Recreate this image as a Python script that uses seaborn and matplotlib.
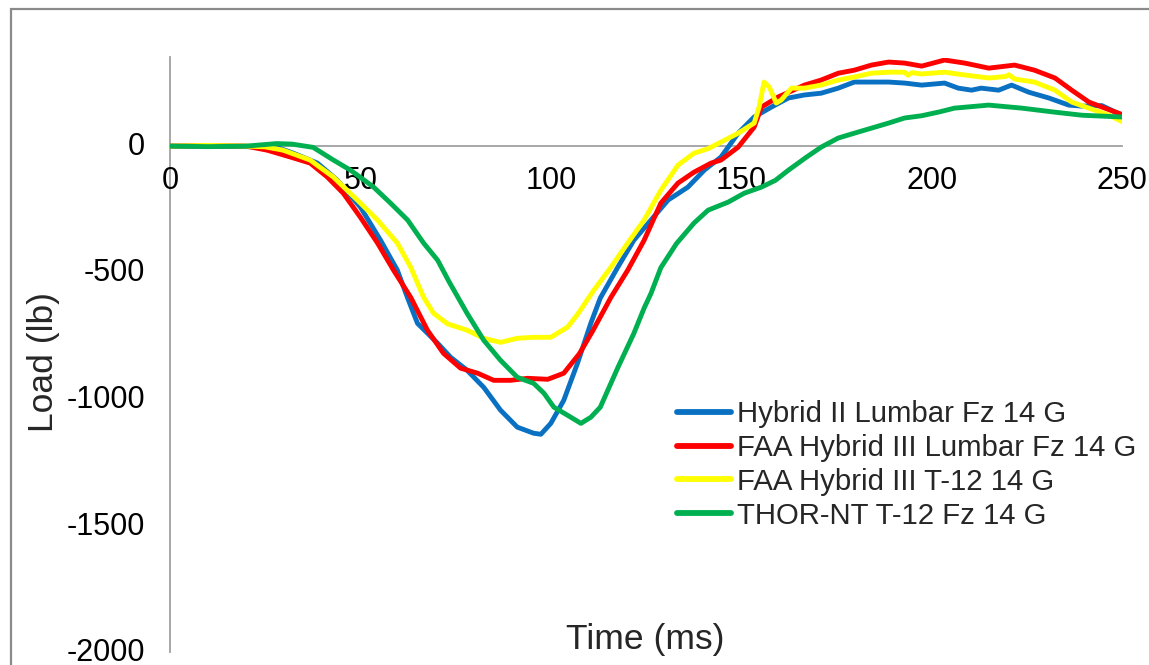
import numpy as np
import pandas as pd
import matplotlib
matplotlib.use("Agg")
import matplotlib.pyplot as plt
from matplotlib.patches import Rectangle
from matplotlib.lines import Line2D
import matplotlib.transforms as mtransforms
import seaborn as sns

# ---------------- data ----------------
series_names = [
    "Hybrid II Lumbar Fz 14 G",
    "FAA Hybrid III Lumbar Fz 14 G",
    "FAA Hybrid III T-12 14 G",
    "THOR-NT T-12 Fz 14 G",
]
series_colors = ["#0A70C2", "#FF0000", "#FFFF00", "#00B050"]

hyb2_t = [0, 10, 20, 28, 32.4, 38.7, 43.9, 50, 55.3, 59.7, 62.4, 65, 70.3, 73.7, 78, 82.4,
          86.8, 91.2, 95.5, 97.4, 100, 103.4, 107, 110.5, 113, 117.6, 121.8, 126.3, 130.8,
          136, 140.3, 144.7, 149.2, 153.4, 157.9, 162.4, 166.6, 171, 175.5, 179.7, 184.2,
          188.7, 192.9, 197.4, 203.4, 207, 210.5, 213, 217.6, 221, 225.5, 230.8, 236,
          239.5, 244.7, 250]
hyb2_v = [0, 0, -2, -4, -28, -67, -134, -241, -372, -490, -600, -700, -779, -834, -885,
          -953, -1043, -1110, -1134, -1138, -1095, -1004, -858, -700, -600, -478, -372,
          -292, -213, -162, -95, -43, 51, 115, 154, 190, 202, 209, 229, 253, 253, 253,
          249, 241, 249, 229, 221, 229, 221, 241, 213, 190, 162, 158, 160, 122]

faa_lum_t = [0, 10, 20, 25.5, 31.6, 36.8, 41.3, 45.5, 50, 54.5, 58.7, 63.2, 67.6, 71.8,
             76.3, 80.8, 85, 89.5, 93.9, 99.2, 103.4, 107.5, 111, 115.8, 120.2, 124.5,
             128.9, 133.4, 137.6, 142.1, 144.7, 149.2, 153.4, 155.3, 159.7, 166.6, 171,
             175.5, 179.7, 184.2, 188.7, 192.9, 197.4, 203.4, 208.7, 215, 221.8, 227,
             232.4, 236.8, 241.3, 245.5, 250]
faa_lum_v = [0, 2, 0, -16, -43, -67, -122, -186, -281, -383, -490, -597, -727, -818, -877,
             -897, -925, -925, -917, -921, -897, -820, -730, -597, -490, -372, -225, -146,
             -103, -67, -55, -4, 75, 154, 194, 241, 261, 288, 300, 320, 332, 328, 316,
             340, 328, 308, 320, 300, 269, 221, 174, 150, 125]

faa_t12_t = [0, 10, 20, 25, 29.7, 36.8, 42.9, 49.2, 54.5, 59.7, 63.2, 66.6, 69.2, 72.9, 78,
             82.4, 86.8, 91.2, 95.5, 100, 104.4, 107, 111.3, 115.8, 120.2, 124.5, 128.9,
             133.4, 137.6, 141.3, 144.7, 149.2, 153.4, 154.7, 156, 157.4, 159.2, 160.5,
             163.2, 166.6, 171, 175.5, 179.7, 184.2, 188.7, 192.9, 193.8, 194.8, 197.4,
             203.4, 208.7, 215, 219.5, 220.3, 221.8, 227, 232.4, 236.8, 241.3, 246.6, 250]
faa_t12_v = [0, 3, 0, -3, -16, -55, -122, -213, -292, -383, -478, -597, -660, -702, -727,
             -759, -775, -759, -755, -755, -715, -665, -569, -478, -383, -292, -174, -75,
             -28, -10, 16, 51, 91, 154, 253, 233, 170, 182, 229, 229, 241, 261, 273, 288,
             292, 292, 280, 290, 285, 292, 281, 269, 275, 282, 265, 253, 221, 174, 150,
             122, 97]

thor_t = [0, 10, 20, 28, 32, 37.6, 42.9, 47.4, 53.4, 57.9, 62.4, 66.6, 70.3, 73.3, 78,
          82.4, 86.8, 91.2, 95.5, 98.2, 100.8, 104.4, 107.9, 110.5, 113, 117.6, 121.8,
          124.5, 126.3, 128.9, 133, 137.6, 141.3, 146.6, 150.8, 155.3, 159, 162.4, 167,
          171, 175.5, 179.7, 184.2, 188.7, 192.9, 197.4, 202, 206, 215, 223.7, 232.4,
          239.5, 250]
thor_v = [0, -2, 0, 10, 8, -5, -55, -95, -161, -225, -292, -383, -451, -536, -660, -767,
          -846, -913, -937, -976, -1031, -1063, -1095, -1071, -1031, -875, -740, -640,
          -582, -480, -385, -304, -253, -221, -186, -162, -135, -95, -45, -4, 32, 51, 71,
          91, 111, 120, 135, 150, 162, 150, 134, 122, 115]

x_ticks = [0, 50, 100, 150, 200, 250]
y_ticks = [0, -500, -1000, -1500, -2000]

# ---------------- build long frame ----------------
frames = []
for name, t, v in zip(series_names,
                      [hyb2_t, faa_lum_t, faa_t12_t, thor_t],
                      [hyb2_v, faa_lum_v, faa_t12_v, thor_v]):
    frames.append(pd.DataFrame({"Time": t, "Load": v, "Series": name}))
df = pd.concat(frames, ignore_index=True)

# ---------------- figure ----------------
sns.set_theme(style="white")
plt.rcParams["font.family"] = ["Liberation Sans", "DejaVu Sans"]

W, H = 1149, 665
fig = plt.figure(figsize=(W / 100, H / 100), dpi=100)
fig.patch.set_facecolor("white")

# outer chart-area frame (extends beyond the cropped right/bottom edges)
fig.patches.append(Rectangle((11 / W, -0.1), 1.2, 1 - 9 / H + 0.1,
                             transform=fig.transFigure, fill=False,
                             edgecolor="#8a8a8a", linewidth=1.6))

ax = fig.add_axes([170 / W, 1 - 652.5 / H, 952 / W, 595 / H])
ax.set_facecolor("none")

sns.lineplot(data=df, x="Time", y="Load", hue="Series", hue_order=series_names,
             palette=series_colors, estimator=None, sort=False, linewidth=3.5,
             ax=ax, legend=False)
for ln in ax.get_lines():
    ln.set_solid_joinstyle("round")
    ln.set_solid_capstyle("round")

ax.set_xlim(0, 250)
ax.set_ylim(-2000, 350)
ax.set_xticks(x_ticks)
ax.set_yticks(y_ticks)
ax.set_xticklabels([str(v) for v in x_ticks])
ax.set_yticklabels([str(v) for v in y_ticks])

for s in ["top", "right"]:
    ax.spines[s].set_visible(False)
ax.spines["bottom"].set_position(("data", 0))
for s in ["left", "bottom"]:
    ax.spines[s].set_color("#a0a0a0")
    ax.spines[s].set_linewidth(1.3)
    ax.spines[s].set_zorder(0)

ax.tick_params(axis="x", length=0, pad=14, labelsize=22, colors="black")
ax.tick_params(axis="y", length=0, pad=18, labelsize=22, colors="black")
# nudge y tick labels up slightly so the lowest one stays inside the image
shift = mtransforms.ScaledTranslation(0, 2 / 72, fig.dpi_scale_trans)
for lbl in ax.get_yticklabels():
    lbl.set_transform(lbl.get_transform() + shift)
ax.set_xlabel("")
ax.set_ylabel("")
ax.grid(False)

fig.text(645 / W, 1 - 640 / H, "Time (ms)", fontsize=25.5, ha="center", va="center")
fig.text(43 / W, 1 - 362 / H, "Load (lb)", fontsize=25.5, ha="center", va="center",
         rotation=90)

# legend
handles = [Line2D([0], [0], color=c, linewidth=4.2, solid_capstyle="round")
           for c in series_colors]
fig.legend(handles, series_names, loc="upper left",
           bbox_to_anchor=(677 / W, 1 - 400 / H), frameon=False, fontsize=21.2,
           handlelength=1.85, handletextpad=0.18, labelspacing=0.2,
           borderpad=0, borderaxespad=0)

fig.savefig("out.png", dpi=100, facecolor="white")
